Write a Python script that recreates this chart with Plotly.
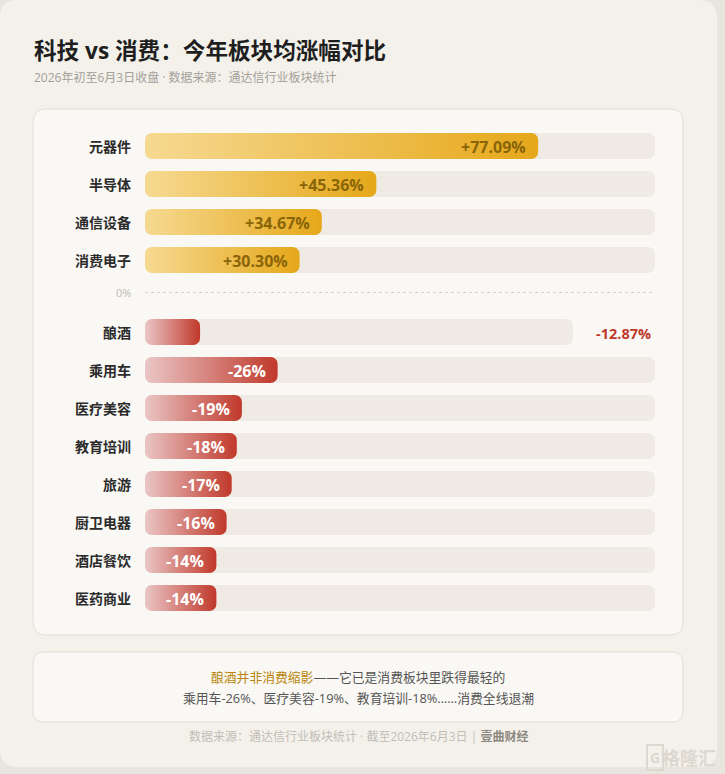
import plotly.graph_objects as go
import math

# ---------------- data ----------------
pos_cats = ["元器件", "半导体", "通信设备", "消费电子"]
pos_vals = [77.09, 45.36, 34.67, 30.30]
neg_cats = ["酿酒", "乘用车", "医疗美容", "教育培训", "旅游", "厨卫电器", "酒店餐饮", "医药商业"]
neg_vals = [-12.87, -26, -19, -18, -17, -16, -14, -14]
highlight_cat = "酿酒"

title = "科技 vs 消费：今年板块均涨幅对比"
subtitle = "2026年初至6月3日收盘 · 数据来源：通达信行业板块统计"
note_hl = "酿酒并非消费缩影"
note_rest = "——它已是消费板块里跌得最轻的"
note_line2 = "乘用车-26%、医疗美容-19%、教育培训-18%……消费全线退潮"
source_txt = "数据来源：通达信行业板块统计 · 截至2026年6月3日 | "
source_brand = "壹曲财经"

# ---------------- layout constants ----------------
W, H = 725, 774
TRACK_X0, TRACK_X1 = 145, 655
PXU = (TRACK_X1 - TRACK_X0) / 100.0  # px per percent unit
BAR_H = 26
ROW0, STEP, NEG0 = 146, 38, 332
ZERO_Y = 292.5
LABEL_RIGHT = 133
HL_TRACK = (573 - TRACK_X0) / PXU  # shorter track for highlighted row
FONT = "Open Sans, Noto Sans CJK SC, sans-serif"
CJK = "Noto Sans CJK SC, sans-serif"

GOLD = [[0, "#f6d991"], [1, "#e6a81a"]]
RED = [[0, "#eac6c6"], [1, "#c0392b"]]
TRACK = "#efebe4"


def px(x):
    return x / W


def rrect_data(x0, x1, yc, h, r_px, n=8):
    """rounded rect polygon in data units (x percent, y pixel)."""
    rx = min(r_px / PXU, (x1 - x0) / 2)
    ry = min(r_px, h / 2)
    y0, y1 = yc - h / 2, yc + h / 2
    xs, ys = [], []
    corners = [(x1 - rx, y0 + ry, -90, 0), (x1 - rx, y1 - ry, 0, 90),
               (x0 + rx, y1 - ry, 90, 180), (x0 + rx, y0 + ry, 180, 270)]
    for cx, cy, a0, a1 in corners:
        for k in range(n + 1):
            a = math.radians(a0 + (a1 - a0) * k / n)
            xs.append(cx + rx * math.cos(a))
            ys.append(cy + ry * math.sin(a))
    xs.append(xs[0]); ys.append(ys[0])
    return xs, ys


def rrect_paper(x0, y0, x1, y1, r):
    X = lambda v: v / W
    Y = lambda v: 1 - v / H
    return (f"M {X(x0+r)} {Y(y0)} L {X(x1-r)} {Y(y0)} Q {X(x1)} {Y(y0)} {X(x1)} {Y(y0+r)} "
            f"L {X(x1)} {Y(y1-r)} Q {X(x1)} {Y(y1)} {X(x1-r)} {Y(y1)} "
            f"L {X(x0+r)} {Y(y1)} Q {X(x0)} {Y(y1)} {X(x0)} {Y(y1-r)} "
            f"L {X(x0)} {Y(y0+r)} Q {X(x0)} {Y(y0)} {X(x0+r)} {Y(y0)} Z")


fig = go.Figure()
annotations = []

rows = []
for i, (c, v) in enumerate(zip(pos_cats, pos_vals)):
    rows.append((c, v, ROW0 + STEP * i))
for j, (c, v) in enumerate(zip(neg_cats, neg_vals)):
    rows.append((c, v, NEG0 + STEP * j))

for c, v, yc in rows:
    is_hl = c == highlight_cat
    track_len = HL_TRACK if is_hl else 100
    # track
    tx, ty = rrect_data(0, track_len, yc, BAR_H, 7)
    fig.add_trace(go.Scatter(x=tx, y=ty, mode="lines", fill="toself", fillcolor=TRACK,
                             line=dict(width=0), hoverinfo="skip"))
    # bar
    blen = abs(v) / 100 * track_len
    bx, by = rrect_data(0, blen, yc, BAR_H, 7)
    fig.add_trace(go.Scatter(x=bx, y=by, mode="lines", fill="toself",
                             fillgradient=dict(type="horizontal", colorscale=GOLD if v > 0 else RED),
                             line=dict(width=0), hoverinfo="skip"))
    # category label
    annotations.append(dict(x=px(LABEL_RIGHT), xref="paper", y=yc, yref="y", xanchor="right",
                            yanchor="middle", showarrow=False, text=f"<b>{c}</b>",
                            font=dict(family=CJK, size=14, color="#2b2b2b")))
    # value label
    if v > 0:
        annotations.append(dict(x=blen, xref="x", y=yc + 1, yref="y", xanchor="right", xshift=-10,
                                yanchor="middle", showarrow=False, text=f"<b>+{v:.2f}%</b>",
                                font=dict(family=FONT, size=16, color="#8a6508")))
    elif is_hl:
        annotations.append(dict(x=100, xref="x", y=yc + 1, yref="y", xanchor="right", xshift=-2,
                                yanchor="middle", showarrow=False, text=f"<b>{v:.2f}%</b>",
                                font=dict(family=FONT, size=14.5, color="#c0392b")))
    else:
        annotations.append(dict(x=blen, xref="x", y=yc + 1, yref="y", xanchor="right", xshift=-10,
                                yanchor="middle", showarrow=False, text=f"<b>{v:.0f}%</b>",
                                font=dict(family=FONT, size=16, color="#ffffff")))

# zero label
annotations.append(dict(x=px(LABEL_RIGHT), xref="paper", y=ZERO_Y, yref="y", xanchor="right",
                        yanchor="middle", showarrow=False, text="0%",
                        font=dict(family=FONT, size=11, color="#bdbab4")))

# titles
annotations.append(dict(x=px(32), xref="paper", y=50, yref="y", xanchor="left", yanchor="middle",
                        showarrow=False, text=f"<b>{title}</b>",
                        font=dict(family=FONT, size=22.6, color="#1e1e1e")))
annotations.append(dict(x=px(32), xref="paper", y=77, yref="y", xanchor="left", yanchor="middle",
                        showarrow=False, text=subtitle,
                        font=dict(family=FONT, size=12, color="#a3a09a")))

# footer note
annotations.append(dict(x=px(358), xref="paper", y=677, yref="y", xanchor="center", yanchor="middle",
                        showarrow=False,
                        text=f"<span style='color:#b8860b'>{note_hl}</span>{note_rest}",
                        font=dict(family=FONT, size=12.8, color="#555555")))
annotations.append(dict(x=px(358), xref="paper", y=698, yref="y", xanchor="center", yanchor="middle",
                        showarrow=False, text=note_line2,
                        font=dict(family=FONT, size=12.8, color="#555555")))
annotations.append(dict(x=px(358), xref="paper", y=736, yref="y", xanchor="center", yanchor="middle",
                        showarrow=False,
                        text=f"{source_txt}<span style='color:#8c8880'><b>{source_brand}</b></span>",
                        font=dict(family=FONT, size=12, color="#c2beb6")))
# watermark
annotations.append(dict(x=px(718), xref="paper", y=757, yref="y", xanchor="right", yanchor="middle",
                        showarrow=False, text="<b>格隆汇</b>",
                        font=dict(family=CJK, size=18, color="#dcd8d0")))
annotations.append(dict(x=px(664), xref="paper", y=757, yref="y", xanchor="right", yanchor="middle",
                        showarrow=False, text="<b>G</b>", bordercolor="#dcd8d0", borderwidth=2,
                        borderpad=2, font=dict(family=FONT, size=14, color="#dcd8d0")))

shapes = [
    dict(type="path", xref="paper", yref="paper", path=rrect_paper(0, 0, 717, 767, 18),
         fillcolor="#f4f1eb", line=dict(width=0), layer="below"),
    dict(type="path", xref="paper", yref="paper", path=rrect_paper(33, 109, 683, 635, 13),
         fillcolor="#f9f8f4", line=dict(color="#e2ded6", width=1), layer="below"),
    dict(type="path", xref="paper", yref="paper", path=rrect_paper(33, 652, 683, 722, 11),
         fillcolor="#f9f8f4", line=dict(color="#e2ded6", width=1), layer="below"),
    dict(type="line", xref="x", yref="y", x0=0, x1=100, y0=ZERO_Y, y1=ZERO_Y,
         line=dict(color="#d6d2ca", width=1, dash="3px,3px"), layer="below"),
]

fig.update_layout(
    width=W, height=H, margin=dict(l=0, r=0, t=0, b=0),
    paper_bgcolor="#e8e5de", plot_bgcolor="rgba(0,0,0,0)",
    showlegend=False, hovermode=False,
    xaxis=dict(domain=[TRACK_X0 / W, TRACK_X1 / W], range=[0, 100], visible=False, fixedrange=True),
    yaxis=dict(domain=[0, 1], range=[H, 0], visible=False, fixedrange=True),
    annotations=annotations, shapes=shapes,
    font=dict(family=FONT),
)

fig.write_html("out.html", config={"displayModeBar": False})
